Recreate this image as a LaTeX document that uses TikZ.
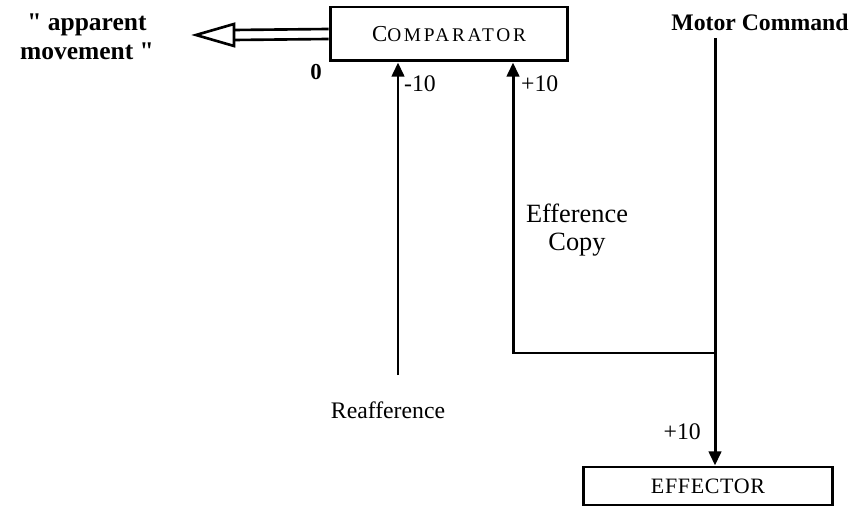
\documentclass[tikz,border=0pt]{standalone}
\usepackage{fontspec}
\setmainfont{Liberation Serif}
\usetikzlibrary{arrows.meta}

\tikzset{
	box/.style={draw, line width=1.7pt, inner sep=0pt},
	sig/.style={line width=1.7pt, -{Triangle[length=8pt,width=7pt]}},
	wire/.style={line width=1.7pt},
}

\begin{document}
\begin{tikzpicture}[x=0.02cm,y=-0.02cm]
		\tikzstyle{every node}=[font=\fontsize{13.5pt}{16pt}\selectfont]
		\useasboundingbox (0,0) rectangle (865,506);
		
		\node [box, minimum width=4.76cm, minimum height=1.08cm] (comp) at (449,34)
			{\addfontfeature{LetterSpace=14}{\fontsize{13pt}{15pt}\selectfont C}\fontsize{11pt}{15pt}\selectfont OMPARATOR};
		\node [box, minimum width=5cm, minimum height=0.76cm] (eff) at (708,486)
			{\addfontfeature{LetterSpace=3}\fontsize{12.5pt}{15pt}\selectfont EFFECTOR};
		
		\node [font=\fontsize{13.5pt}{16pt}\selectfont\bfseries] (mc) at (760,22) {Motor Command};
		\node [align=center, font=\fontsize{14.5pt}{16.5pt}\selectfont\bfseries] (app) at (87,37)
			{\textquotedbl{} apparent\\movement \textquotedbl};
		\node [font=\fontsize{13pt}{15pt}\selectfont\bfseries] (zero) at (316,72) {0};
		\node [anchor=west] (minus) at (398,84) {-10};
		\node [anchor=west] (plus) at (515,84) {+10};
		\node [align=center, font=\fontsize{15pt}{16pt}\selectfont] (effcopy) at (577,230) {Efference\\Copy};
		\node (reaf) at (388,410) {Reafference};
		\node [anchor=east] (plusb) at (707,432) {+10};
		
		\coordinate (mctop) at (715,38);
		\coordinate (split) at (715,353);
		\coordinate (ecorner) at (513,353);
		\coordinate (rstart) at (398,375);
		
		% apparent movement
		\coordinate (tipl) at (196,35);
		\draw [line width=1.5pt] ([yshift=0.1cm]comp.west) -- (234,30);
		\draw [line width=1.5pt] ([yshift=-0.1cm]comp.west) -- (234,40);
		\draw [line width=1.5pt, line join=miter] (tipl) -- (234,24) -- (234,46) -- cycle;
		
		\draw [sig] (rstart) -- (rstart |- comp.south);
		\draw [wire] (mctop) -- (split);
		\draw [sig] (split) -- (ecorner) -- (ecorner |- comp.south);
		\draw [sig] (split) -- (split |- eff.north);
		
	\end{tikzpicture}
\end{document}
